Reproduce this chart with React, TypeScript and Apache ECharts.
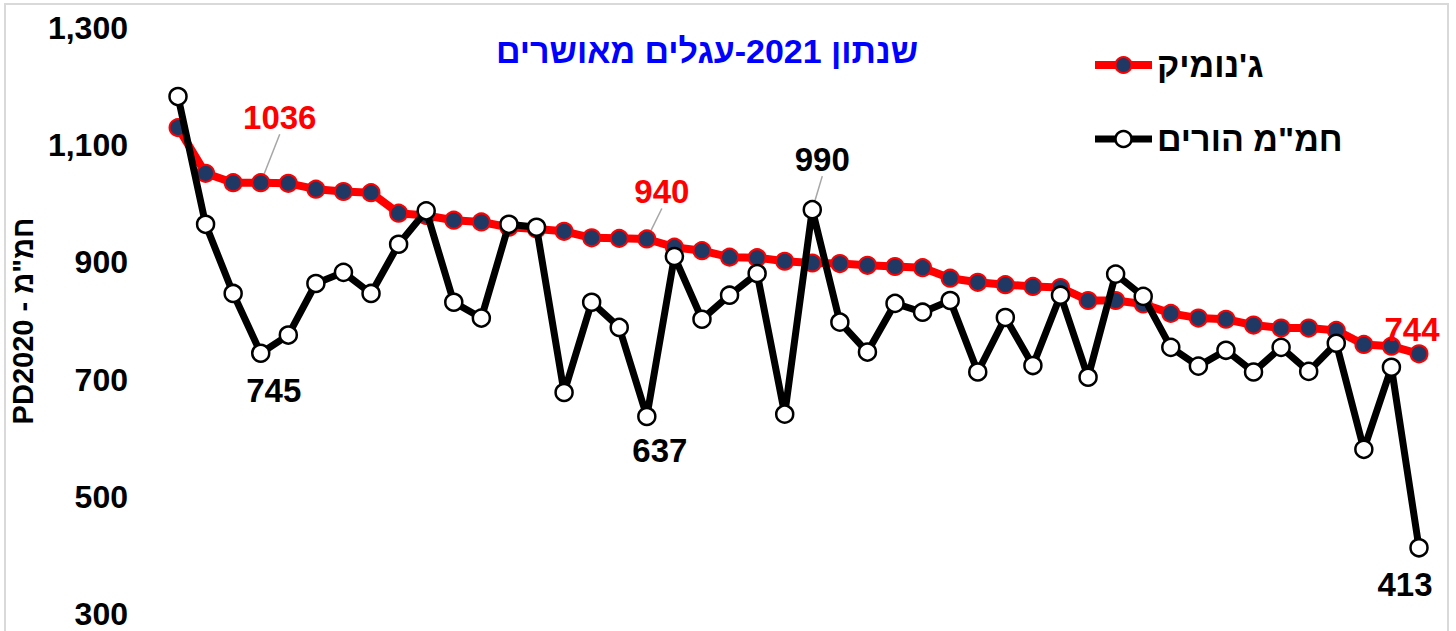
import React, { useEffect, useRef } from "react";
import * as echarts from "echarts";

const categories: string[] = Array.from({ length: 46 }, (_, i) => String(i + 1));

const genomicValues: number[] = [
  1130, 1052, 1036, 1036, 1035, 1025, 1021, 1019, 984, 980, 972, 969, 960, 957, 953, 942,
  941, 940, 926, 920, 909, 908, 902, 899, 898, 895, 893, 891, 873, 866, 862, 859, 857, 835,
  835, 829, 813, 805, 803, 793, 788, 788, 784, 760, 757, 744,
];

const parentValues: number[] = [
  1183, 965, 847, 745, 776, 864, 883, 847, 931, 988, 832, 805, 965, 960, 678, 832, 789, 637,
  910, 803, 844, 881, 641, 990, 798, 747, 830, 815, 835, 713, 806, 724, 844, 704, 880, 842,
  755, 723, 750, 713, 755, 714, 762, 581, 721, 413,
];

const yTicks = { min: 300, max: 1300, interval: 200 };

const titleText = "שנתון 2021-עגלים מאושרים";
const genomicName = "ג'נומיק";
const parentName = "חמ\"מ הורים";
const yAxisName = "PD2020 - חמ\"מ";

// labelled points: index -> [dx, dy, leader]
const genomicLabels: Record<number, [number, number, boolean]> = {
  3: [19, -65, true],
  17: [15, -47, true],
  45: [-7, -24, false],
};
const parentLabels: Record<number, [number, number, boolean]> = {
  3: [13, 37, false],
  17: [13, 34, false],
  23: [10, -50, true],
  45: [-14, 37, false],
};

const FONT = "'Liberation Sans', Arial, sans-serif";

export default function App() {
  const ref = useRef<HTMLDivElement>(null);

  useEffect(() => {
    if (!ref.current) return;
    const chart = echarts.init(ref.current, undefined, { renderer: "svg" });

    const mkData = (vals: number[], labels: Record<number, [number, number, boolean]>, color: string) =>
      vals.map((v, i) => {
        const l = labels[i];
        if (!l) return v;
        return {
          value: v,
          label: {
            show: true,
            position: "inside",
            formatter: "{c}",
            color,
            fontSize: 33,
            fontWeight: "bold",
            fontFamily: FONT,
          },
          labelLine: l[2]
            ? { show: true, lineStyle: { color: "#A6A6A6", width: 1.5 } }
            : { show: false },
        };
      });

    const layoutFor = (labels: Record<number, [number, number, boolean]>) => (p: any) => {
      const l = labels[p.dataIndex];
      if (!l) return {};
      return { dx: l[0], dy: l[1] };
    };

    chart.setOption({
      animation: false,
      backgroundColor: "#ffffff",
      title: {
        text: titleText,
        left: 702,
        top: 46,
        textAlign: "center",
        textVerticalAlign: "middle",
        textStyle: { color: "#0000FF", fontSize: 34, fontWeight: "bold", fontFamily: FONT },
      },
      legend: {
        orient: "vertical",
        left: 1086,
        top: 43,
        itemWidth: 57,
        itemHeight: 20,
        itemGap: 40,
        data: [
          { name: genomicName, itemStyle: { color: "#203864", borderColor: "#FF0000", borderWidth: 2 }, lineStyle: { color: "#FF0000", width: 8 } },
          { name: parentName, itemStyle: { color: "#FFFFFF", borderColor: "#000000", borderWidth: 2.5 }, lineStyle: { color: "#000000", width: 7 } },
        ],
        textStyle: { color: "#000", fontSize: 34, fontWeight: "bold", fontFamily: FONT },
      },
      graphic: [
        {
          type: "rect",
          shape: { x: 5, y: 4, width: 1443, height: 640 },
          style: { fill: "none", stroke: "#D9D9D9", lineWidth: 2 },
          silent: true,
          z: -10,
        },
      ],
      grid: { left: 178, right: 37, top: 28, bottom: 17, containLabel: false },
      xAxis: {
        type: "category",
        data: categories,
        boundaryGap: false,
        show: false,
      },
      yAxis: {
        type: "value",
        min: yTicks.min,
        max: yTicks.max,
        interval: yTicks.interval,
        splitLine: { show: false },
        axisLine: { show: false },
        axisTick: { show: false },
        axisLabel: {
          margin: 50,
          color: "#000",
          fontSize: 32,
          fontWeight: "bold",
          fontFamily: FONT,
          formatter: (v: number) => v.toLocaleString("en-US"),
        },
        name: yAxisName,
        nameLocation: "middle",
        nameGap: 135,
        nameRotate: 90,
        nameTextStyle: { color: "#000", fontSize: 29, fontWeight: "bold", fontFamily: FONT },
      },
      series: [
        {
          name: genomicName,
          type: "line",
          data: mkData(genomicValues, genomicLabels, "#FF0000"),
          symbol: "circle",
          symbolSize: 17,
          lineStyle: { color: "#FF0000", width: 8 },
          itemStyle: { color: "#203864", borderColor: "#FF0000", borderWidth: 2 },
          labelLayout: layoutFor(genomicLabels),
          z: 2,
        },
        {
          name: parentName,
          type: "line",
          data: mkData(parentValues, parentLabels, "#000000"),
          symbol: "circle",
          symbolSize: 17,
          lineStyle: { color: "#000000", width: 7 },
          itemStyle: { color: "#FFFFFF", borderColor: "#000000", borderWidth: 2.5 },
          labelLayout: layoutFor(parentLabels),
          z: 3,
        },
      ],
    });

    return () => chart.dispose();
  }, []);

  return <div ref={ref} style={{ width: 1456, height: 631, position: "absolute", left: 0, top: 0 }} />;
}
